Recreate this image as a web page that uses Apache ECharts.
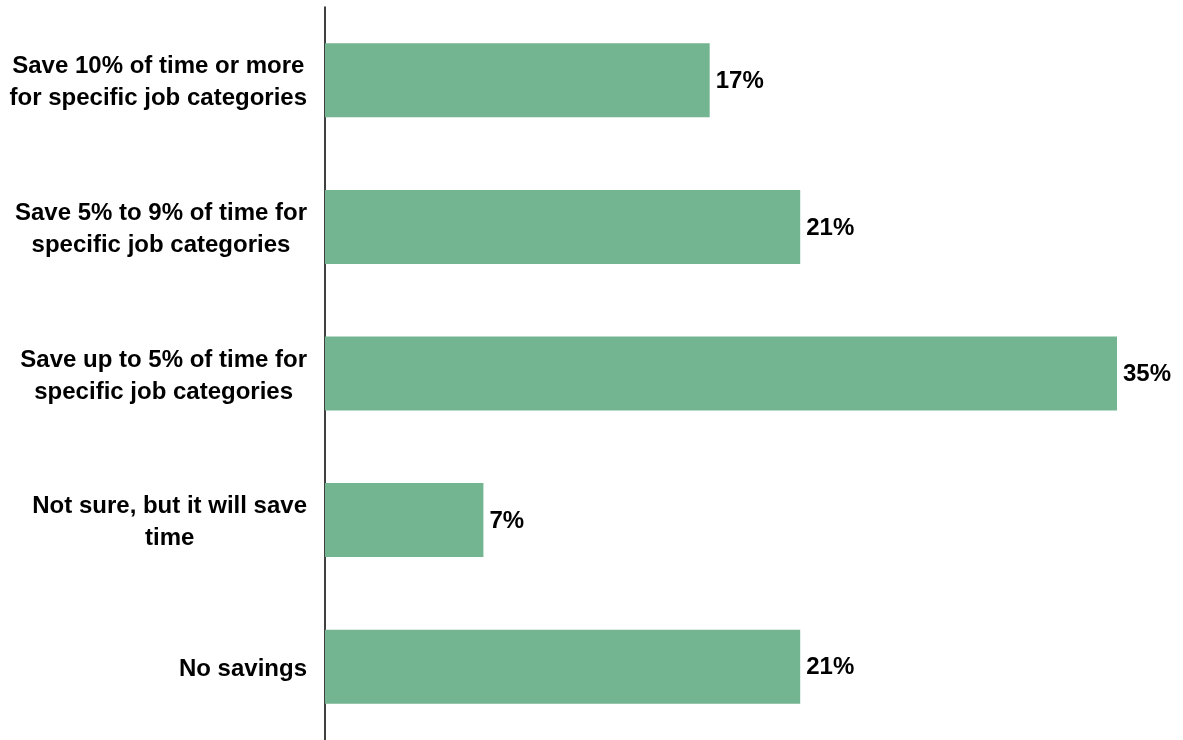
<!DOCTYPE html>
<html>
<head>
<meta charset="utf-8">
<style>
  html, body { margin: 0; padding: 0; background: #ffffff; }
  #chart { width: 1183px; height: 740px; }
</style>
<script src="https://cdn.jsdelivr.net/npm/echarts@6/dist/echarts.min.js"></script>
</head>
<body>
<div id="chart"></div>
<script>
// Survey answers, top to bottom, with line breaks as shown on the axis
const categories = [
  'Save 10% of time or more\nfor specific job categories',
  'Save 5% to 9% of time for\nspecific job categories',
  'Save up to 5% of time for\nspecific job categories',
  'Not sure, but it will save\ntime',
  'No savings'
];
// Share of respondents, percent
const shares = [17, 21, 35, 7, 21];

const FONT = '"Liberation Sans", Arial, sans-serif';

const chart = echarts.init(document.getElementById('chart'), null, { renderer: 'canvas' });

chart.setOption({
  animation: false,
  backgroundColor: '#ffffff',
  grid: { left: 325, right: 66, top: 7, bottom: -1, containLabel: false },
  xAxis: {
    type: 'value',
    min: 0,
    max: 35,
    show: false
  },
  yAxis: {
    type: 'category',
    inverse: true,
    data: categories,
    axisLine: { show: true, lineStyle: { color: '#000000', width: 1.5 } },
    axisTick: { show: false },
    splitLine: { show: false },
    axisLabel: {
      margin: 18,
      align: 'right',
      padding: [5, 0, 0, 0],
      // every line centred within the label block
      formatter: (v) => v.split('\n').map(l => '{c|' + l + '}').join('\n'),
      rich: {
        c: {
          align: 'center',
          fontFamily: FONT,
          fontSize: 24,
          fontWeight: 'bold',
          color: '#000000',
          lineHeight: 32
        }
      }
    }
  },
  series: [{
    type: 'bar',
    data: shares,
    barWidth: 74,
    itemStyle: { color: '#73b591' },
    label: {
      show: true,
      position: 'right',
      distance: 6,
      offset: [0, 1],
      formatter: '{c}%',
      fontFamily: FONT,
      fontSize: 24,
      fontWeight: 'bold',
      color: '#000000'
    }
  }]
});
</script>
</body>
</html>
